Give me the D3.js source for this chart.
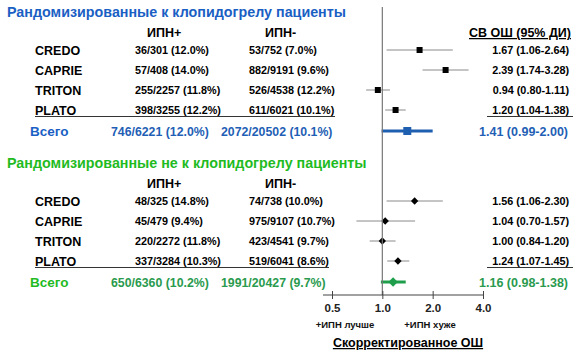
<!DOCTYPE html>
<html>
  <head>
    <meta charset="UTF-8">
    <title>Forest plot</title>
    <style>
      * { margin: 0; padding: 0; overflow: hidden; }
      body { background: #fff; }
      text { font-family: "Liberation Sans", Arial, sans-serif; font-weight: bold; }
    </style>
    <script src="https://d3js.org/d3.v7.min.js"></script>
  </head>
  <body>
    <script type="text/javascript">
      // исследования
      const studies = ["CREDO", "CAPRIE", "TRITON", "PLATO"];
      // рандомизированные к клопидогрелу
      const clopPos = ["36/301 (12.0%)", "57/408 (14.0%)", "255/2257 (11.8%)", "398/3255 (12.2%)"];
      const clopNeg = ["53/752 (7.0%)", "882/9191 (9.6%)", "526/4538 (12.2%)", "611/6021 (10.1%)"];
      const clopOR = [1.67, 2.39, 0.94, 1.20];
      const clopLo = [1.06, 1.74, 0.80, 1.04];
      const clopHi = [2.64, 3.28, 1.11, 1.38];
      const clopTotal = { pos: "746/6221 (12.0%)", neg: "2072/20502 (10.1%)", or: 1.41, lo: 0.99, hi: 2.00 };
      // рандомизированные не к клопидогрелу
      const otherPos = ["48/325 (14.8%)", "45/479 (9.4%)", "220/2272 (11.8%)", "337/3284 (10.3%)"];
      const otherNeg = ["74/738 (10.0%)", "975/9107 (10.7%)", "423/4541 (9.7%)", "519/6041 (8.6%)"];
      const otherOR = [1.56, 1.04, 1.00, 1.24];
      const otherLo = [1.06, 0.70, 0.84, 1.07];
      const otherHi = [2.30, 1.57, 1.20, 1.45];
      const otherTotal = { pos: "650/6360 (10.2%)", neg: "1991/20427 (9.7%)", or: 1.16, lo: 0.98, hi: 1.38 };
      // ось
      const ticks = [0.5, 1.0, 2.0, 4.0];

      const WIDTH = 584, HEIGHT = 363;
      const svg = d3.select("body").append("svg")
        .attr("width", WIDTH).attr("height", HEIGHT);

      const x = d3.scaleLog().domain([0.5, 4]).range([332, 483]);
      const fmt = (v) => v.toFixed(2);

      const drawBlock = (opt) => {
        const g = svg.append("g");
        const y = (i) => opt.top + 38 + i * 20;

        g.append("text").attr("x", 7).attr("y", opt.top + 5)
          .attr("font-size", "14.3px").attr("fill", opt.titleColor).text(opt.title);
        g.append("text").attr("x", 147).attr("y", opt.top + 25)
          .attr("font-size", "12.5px").text("ИПН+");
        g.append("text").attr("x", 265).attr("y", opt.top + 25)
          .attr("font-size", "12.5px").text("ИПН-");
        if (opt.header) {
          g.append("text").attr("x", 571).attr("y", opt.top + 25)
            .attr("text-anchor", "end").attr("font-size", "12.5px")
            .attr("text-decoration", "underline").text(opt.header);
        }

        studies.forEach((s, i) => {
          const yy = y(i);
          g.append("text").attr("x", 35).attr("y", yy + 4.5).attr("font-size", "12.5px").text(s);
          g.append("text").attr("x", 135).attr("y", yy + 4).attr("font-size", "10.8px").text(opt.pos[i]);
          g.append("text").attr("x", 249).attr("y", yy + 4).attr("font-size", "10.8px").text(opt.neg[i]);
          g.append("text").attr("x", 569).attr("y", yy + 4).attr("text-anchor", "end")
            .attr("font-size", "10.8px")
            .text(`${fmt(opt.or[i])} (${fmt(opt.lo[i])}-${fmt(opt.hi[i])})`);
          g.append("line").attr("x1", x(opt.lo[i])).attr("x2", x(opt.hi[i]))
            .attr("y1", yy).attr("y2", yy).attr("stroke", "#8a8a8a").attr("stroke-width", 1);
          if (opt.diamond) {
            g.append("path").attr("transform", `translate(${x(opt.or[i])},${yy}) rotate(45)`)
              .attr("d", "M-2.6,-2.6h5.2v5.2h-5.2z").attr("fill", "#000");
          } else {
            g.append("rect").attr("x", x(opt.or[i]) - 3).attr("y", yy - 3)
              .attr("width", 6).attr("height", 6).attr("fill", "#000");
          }
        });

        // линия под последним исследованием
        const ly = y(3) + 6.5;
        g.append("line").attr("x1", 35).attr("x2", opt.lineEnd).attr("y1", ly).attr("y2", ly)
          .attr("stroke", "#333").attr("stroke-width", 1.2);
        g.append("line").attr("x1", 487).attr("x2", 573).attr("y1", ly).attr("y2", ly)
          .attr("stroke", "#333").attr("stroke-width", 1.2);

        // итог
        const t = opt.total, ty = y(4) + 1;
        g.append("text").attr("x", 30).attr("y", ty + 5).attr("font-size", "13.5px")
          .attr("fill", opt.titleColor).text("Всего");
        g.append("text").attr("x", 111).attr("y", ty + 4.5).attr("font-size", "12.3px")
          .attr("fill", opt.totalColor).text(t.pos);
        g.append("text").attr("x", 221).attr("y", ty + 4.5).attr("font-size", "12.3px")
          .attr("fill", opt.totalColor).text(t.neg);
        g.append("text").attr("x", 568).attr("y", ty + 4.5).attr("text-anchor", "end")
          .attr("font-size", "12.5px").attr("fill", opt.totalColor)
          .text(`${fmt(t.or)} (${fmt(t.lo)}-${fmt(t.hi)})`);
        g.append("line").attr("x1", x(t.lo)).attr("x2", x(t.hi)).attr("y1", ty).attr("y2", ty)
          .attr("stroke", opt.markColor).attr("stroke-width", 3);
        if (opt.diamond) {
          g.append("path").attr("transform", `translate(${x(t.or)},${ty}) rotate(45)`)
            .attr("d", "M-3.3,-3.3h6.6v6.6h-6.6z").attr("fill", opt.markColor);
        } else {
          g.append("rect").attr("x", x(t.or) - 4).attr("y", ty - 4)
            .attr("width", 8).attr("height", 8).attr("fill", opt.markColor);
        }
      };

      drawBlock({
        top: 12, title: "Рандомизированные к клопидогрелу пациенты", header: "СВ ОШ (95% ДИ)",
        titleColor: "#1a5fc4", totalColor: "#1f5fb5", markColor: "#1f5fb0",
        pos: clopPos, neg: clopNeg, or: clopOR, lo: clopLo, hi: clopHi, total: clopTotal,
        diamond: false, lineEnd: 335
      });
      drawBlock({
        top: 163, title: "Рандомизированные не к клопидогрелу пациенты", header: null,
        titleColor: "#1fbb1f", totalColor: "#2a9a4e", markColor: "#1e9e4a",
        pos: otherPos, neg: otherNeg, or: otherOR, lo: otherLo, hi: otherHi, total: otherTotal,
        diamond: true, lineEnd: 329
      });

      // вертикальная линия OR = 1
      svg.append("line").attr("x1", x(1)).attr("x2", x(1)).attr("y1", 7).attr("y2", 295)
        .attr("stroke", "#777").attr("stroke-width", 1.2);

      // ось
      const axisY = 295;
      const axis = d3.axisBottom(x).tickValues(ticks).tickFormat(d3.format(".1f"))
        .tickSizeInner(4).tickSizeOuter(0).tickPadding(4);
      const ax = svg.append("g").attr("transform", `translate(0,${axisY})`).call(axis);
      ax.select(".domain").remove();
      ax.append("line").attr("x1", 323).attr("x2", 483).attr("y1", 0).attr("y2", 0)
        .attr("stroke", "#444").attr("stroke-width", 1.2);
      ax.selectAll(".tick line").attr("y1", -4).attr("y2", 4).attr("stroke", "#444");
      ax.selectAll(".tick text").attr("font-size", "11.5px").attr("fill", "#222")
        .attr("font-family", null).attr("dy", "0.75em");

      svg.append("text").attr("x", 345).attr("y", 328).attr("text-anchor", "middle")
        .attr("font-size", "9.5px").attr("font-weight", "normal").attr("fill", "#111").text("+ИПН лучше");
      svg.append("text").attr("x", 430).attr("y", 328).attr("text-anchor", "middle")
        .attr("font-size", "9.5px").attr("font-weight", "normal").attr("fill", "#111").text("+ИПН хуже");
      svg.append("text").attr("x", 408).attr("y", 347).attr("text-anchor", "middle")
        .attr("font-size", "12.5px").attr("text-decoration", "underline").text("Скорректированное ОШ");
    </script>
  </body>
</html>
